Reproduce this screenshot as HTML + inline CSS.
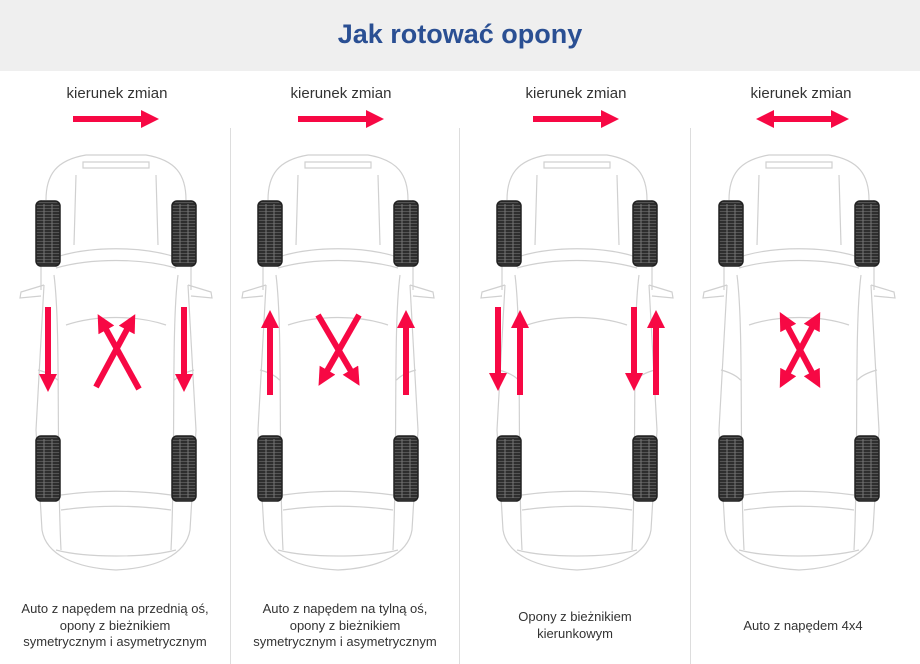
<!DOCTYPE html>
<html><head><meta charset="utf-8"><style>
body{margin:0;width:920px;height:664px;background:#fff;font-family:"Liberation Sans",sans-serif;overflow:hidden;position:relative}
.hdr{position:absolute;left:0;top:0;width:920px;height:71px;background:#efefef}
.t{position:absolute;left:0;width:920px;top:19px;text-align:center;font-size:27px;font-weight:bold;color:#2a4f93}
.lab{position:absolute;top:85px;width:200px;text-align:center;font-size:15px;color:#333}
.cap{position:absolute;width:230px;text-align:center;font-size:13px;line-height:16.5px;color:#333}
.div{position:absolute;top:128px;width:1px;height:536px;background:#ddd}
</style></head><body>
<div class="hdr"></div><div class="t">Jak rotować opony</div>
<div class="lab" style="left:17px">kierunek zmian</div>
<div class="lab" style="left:241px">kierunek zmian</div>
<div class="lab" style="left:476px">kierunek zmian</div>
<div class="lab" style="left:701px">kierunek zmian</div>
<div class="div" style="left:230px"></div><div class="div" style="left:459px"></div><div class="div" style="left:690px"></div>
<div class="cap" style="left:0;top:601px">Auto z napędem na przednią oś,<br>opony z bieżnikiem<br>symetrycznym i asymetrycznym</div>
<div class="cap" style="left:230px;top:601px">Auto z napędem na tylną oś,<br>opony z bieżnikiem<br>symetrycznym i asymetrycznym</div>
<div class="cap" style="left:460px;top:609px">Opony z bieżnikiem<br>kierunkowym</div>
<div class="cap" style="left:688px;top:618px">Auto z napędem 4x4</div>
<svg width="920" height="664" style="position:absolute;left:0;top:0">
<defs>
<pattern id="tr" width="4" height="3" patternUnits="userSpaceOnUse"><rect width="4" height="3" fill="#2e2e2e"/><rect y="1" width="4" height="1" fill="#555"/></pattern>
<g id="tire"><rect x="-12" y="0" width="24" height="65" rx="5" fill="url(#tr)"/><rect x="-12" y="0" width="24" height="65" rx="5" fill="none" stroke="#222" stroke-width="1.5"/><line x1="-4" y1="3" x2="-4" y2="62" stroke="#777" stroke-width="1"/><line x1="4" y1="3" x2="4" y2="62" stroke="#777" stroke-width="1"/></g>
<g id="car" fill="none" stroke="#d0d0d0" stroke-width="1.2">
<path d="M-70 200 C-70 175 -60 160 -30 155 L30 155 C60 160 70 175 70 200"/>
<path d="M-33 162 L33 162 L33 168 L-33 168 Z"/>
<path d="M-75 200 L-75 290 M75 200 L75 290"/>
<path d="M-68 260 C-30 245 30 245 68 260"/>
<path d="M-60 268 C-25 258 25 258 60 268"/>
<path d="M-40 175 L-42 245 M40 175 L42 245"/>
<path d="M-62 275 C-55 330 -60 450 -55 550 M62 275 C55 330 60 450 55 550"/>
<path d="M-72 285 L-80 430 L-74 530 C-70 555 -40 568 0 570 C40 568 70 555 74 530 L80 430 L72 285"/>
<path d="M-50 325 C-20 315 20 315 50 325"/>
<path d="M-72 285 L-95 292 L-96 298 L-75 296 M72 285 L95 292 L96 298 L75 296"/>
<path d="M-78 370 C-60 375 -60 380 -58 380 M78 370 C60 375 60 380 58 380"/>
<path d="M-55 495 C-20 490 20 490 55 495 M-55 510 C-20 505 20 505 55 510"/>
<path d="M-60 550 C-30 558 30 558 60 550"/>
</g>
<marker id="ah" viewBox="0 0 10 10" refX="5" refY="5" markerWidth="3.2" markerHeight="3" orient="auto-start-reverse"><path d="M0 0 L10 5 L0 10 Z" fill="#f70844"/></marker>
</defs>
<g><use href="#car" x="116"/><use href="#tire" x="48" y="201"/><use href="#tire" x="184" y="201"/><use href="#tire" x="48" y="436"/><use href="#tire" x="184" y="436"/></g>
<g><use href="#car" x="338"/><use href="#tire" x="270" y="201"/><use href="#tire" x="406" y="201"/><use href="#tire" x="270" y="436"/><use href="#tire" x="406" y="436"/></g>
<g><use href="#car" x="577"/><use href="#tire" x="509" y="201"/><use href="#tire" x="645" y="201"/><use href="#tire" x="509" y="436"/><use href="#tire" x="645" y="436"/></g>
<g><use href="#car" x="799"/><use href="#tire" x="731" y="201"/><use href="#tire" x="867" y="201"/><use href="#tire" x="731" y="436"/><use href="#tire" x="867" y="436"/></g>
<g stroke="#f70844" stroke-width="6" fill="none">
<line x1="73" y1="119" x2="150" y2="119" marker-end="url(#ah)"/>
<line x1="298" y1="119" x2="375" y2="119" marker-end="url(#ah)"/>
<line x1="533" y1="119" x2="610" y2="119" marker-end="url(#ah)"/>
<line x1="765" y1="119" x2="840" y2="119" marker-start="url(#ah)" marker-end="url(#ah)"/>
<line x1="48" y1="307" x2="48" y2="383" marker-end="url(#ah)"/>
<line x1="184" y1="307" x2="184" y2="383" marker-end="url(#ah)"/>
<line x1="139" y1="389" x2="102" y2="322" marker-end="url(#ah)"/>
<line x1="96" y1="387" x2="131" y2="322" marker-end="url(#ah)"/>
<line x1="270" y1="395" x2="270" y2="319" marker-end="url(#ah)"/>
<line x1="406" y1="395" x2="406" y2="319" marker-end="url(#ah)"/>
<line x1="318" y1="315" x2="355" y2="378" marker-end="url(#ah)"/>
<line x1="359" y1="315" x2="323" y2="378" marker-end="url(#ah)"/>
<line x1="498" y1="307" x2="498" y2="382" marker-end="url(#ah)"/>
<line x1="520" y1="395" x2="520" y2="319" marker-end="url(#ah)"/>
<line x1="634" y1="307" x2="634" y2="382" marker-end="url(#ah)"/>
<line x1="656" y1="395" x2="656" y2="319" marker-end="url(#ah)"/>
<line x1="784" y1="320" x2="816" y2="380" marker-start="url(#ah)" marker-end="url(#ah)"/>
<line x1="816" y1="320" x2="784" y2="380" marker-start="url(#ah)" marker-end="url(#ah)"/>
</g>
</svg>
</body></html>
